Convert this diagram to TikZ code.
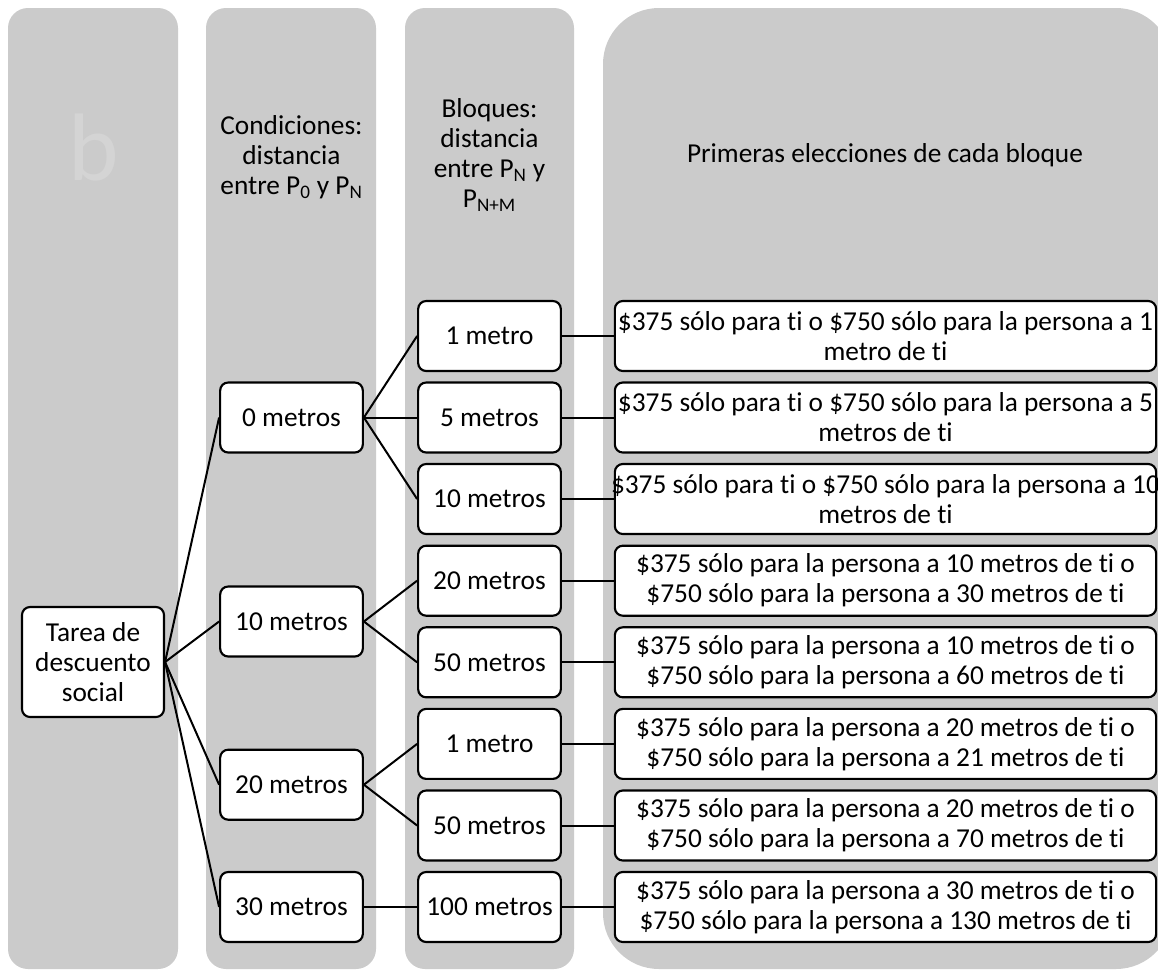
\documentclass[tikz,border=0pt]{standalone}
\usepackage{fontspec}
\setmainfont{Carlito}[Ligatures=NoCommon]
\newcommand\tii{t\kern0pt i}
\definecolor{colgray}{HTML}{CBCBCB}
\definecolor{bgray}{HTML}{D4D4D4}
\begin{document}
\begin{tikzpicture}[x=0.75pt,y=-0.75pt,
  col/.style={fill=colgray, draw=none},
  box/.style={draw=black, line width=1.6pt, rounded corners=6pt, fill=white, align=center,
    minimum height=52.5pt, minimum width=107pt, inner sep=1pt, font=\fontsize{20.5}{22.5}\selectfont},
  choice/.style={box, minimum width=406pt},
  hdr/.style={align=center, font=\fontsize{20.5}{22.5}\selectfont},
  conn/.style={line width=1.5pt, draw=black}]
\useasboundingbox (0,0) rectangle (1158,976);
% columns
\fill[col, rounded corners=15pt] (8,8) rectangle (178,969);
\fill[col, rounded corners=15pt] (206,8) rectangle (376,969);
\fill[col, rounded corners=15pt] (405,8) rectangle (574,969);
\fill[col, rounded corners=42pt] (603,8) rectangle (1172,969);
% headers
\node[text=bgray, font=\fontsize{72}{74}\selectfont] (blabel) at (94,147) {b};
\node[hdr] (h1) at (291.5,157) {Condiciones:\\distancia\\entre P\textsubscript{0} y P\textsubscript{N}};
\node[hdr] (h2) at (489.5,155) {Bloques:\\distancia\\entre P\textsubscript{N} y\\P\textsubscript{N+M}};
\node[hdr] (h3) at (885,155) {Primeras elecciones de cada bloque};
% root
\node[box, minimum width=106.5pt, minimum height=82.5pt] (root) at (93,662) {Tarea de\\descuento\\social};
% conditions
\node[box] (c0) at (291.5,417.5) {0 metros};
\node[box] (c10) at (291.5,621.5) {10 metros};
\node[box] (c20) at (291.5,784.7) {20 metros};
\node[box] (c30) at (291.5,907) {30 metros};
% blocks
\node[box] (b1) at (489.5,336) {1 metro};
\node[box] (b2) at (489.5,417.5) {5 metros};
\node[box] (b3) at (489.5,499) {10 metros};
\node[box] (b4) at (489.5,580.7) {20 metros};
\node[box] (b5) at (489.5,662.3) {50 metros};
\node[box] (b6) at (489.5,743.9) {1 metro};
\node[box] (b7) at (489.5,825.5) {50 metros};
\node[box] (b8) at (489.5,907) {100 metros};
% choices
\node[choice] (e1) at (885.5,336) {\$375 sólo para \tii{} o \$750 sólo para la persona a 1\\metro de \tii};
\node[choice] (e2) at (885.5,417.5) {\$375 sólo para \tii{} o \$750 sólo para la persona a 5\\metros de \tii};
\node[choice] (e3) at (885.5,499) {\makebox[400pt]{\$375 sólo para \tii{} o \$750 sólo para la persona a 10}\\metros de \tii};
\node[choice] (e4) at (885.5,580.7) {\$375 sólo para la persona a 10 metros de \tii{} o\\\$750 sólo para la persona a 30 metros de \tii};
\node[choice] (e5) at (885.5,662.3) {\$375 sólo para la persona a 10 metros de \tii{} o\\\$750 sólo para la persona a 60 metros de \tii};
\node[choice] (e6) at (885.5,743.9) {\$375 sólo para la persona a 20 metros de \tii{} o\\\$750 sólo para la persona a 21 metros de \tii};
\node[choice] (e7) at (885.5,825.5) {\$375 sólo para la persona a 20 metros de \tii{} o\\\$750 sólo para la persona a 70 metros de \tii};
\node[choice] (e8) at (885.5,907) {\$375 sólo para la persona a 30 metros de \tii{} o\\\$750 sólo para la persona a 130 metros de \tii};
% connectors
\foreach \c in {c0,c10,c20,c30} \draw[conn] (root.east) -- (\c.west);
\foreach \b in {b1,b2,b3} \draw[conn] (c0.east) -- (\b.west);
\foreach \b in {b4,b5} \draw[conn] (c10.east) -- (\b.west);
\foreach \b in {b6,b7} \draw[conn] (c20.east) -- (\b.west);
\draw[conn] (c30.east) -- (b8.west);
\foreach \i in {1,...,8} \draw[conn] (b\i.east) -- (e\i.west);
\end{tikzpicture}
\end{document}
